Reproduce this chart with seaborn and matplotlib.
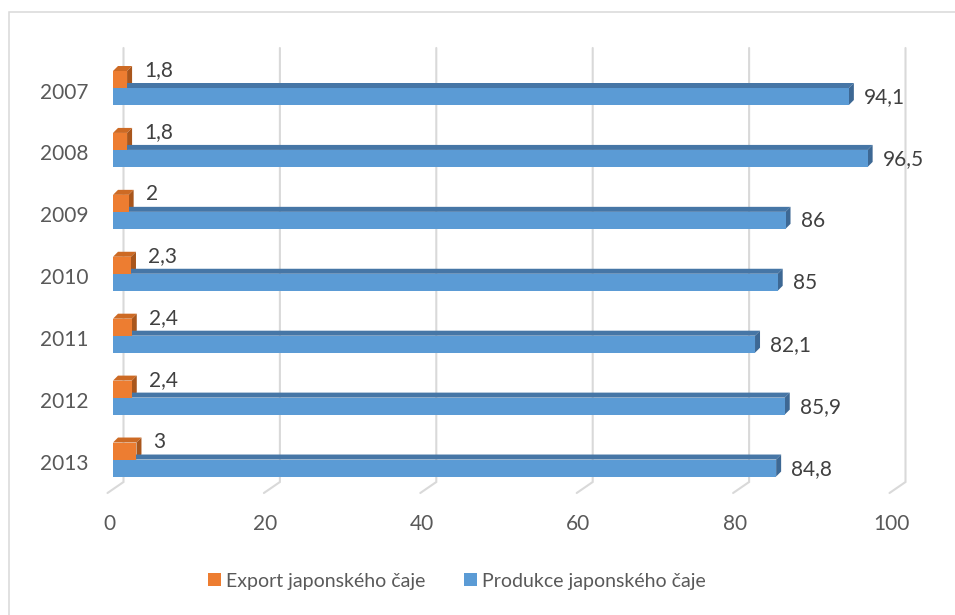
import matplotlib
matplotlib.use("Agg")
import matplotlib.pyplot as plt
import seaborn as sns
import pandas as pd
from matplotlib.patches import Polygon, Rectangle, Patch
from matplotlib.lines import Line2D
from matplotlib.transforms import IdentityTransform

# --- data -------------------------------------------------------------
years = ["2007", "2008", "2009", "2010", "2011", "2012", "2013"]
export = [1.8, 1.8, 2.0, 2.3, 2.4, 2.4, 3.0]
production = [94.1, 96.5, 86.0, 85.0, 82.1, 85.9, 84.8]
series_names = ["Export japonského čaje", "Produkce japonského čaje"]
x_ticks = [0, 20, 40, 60, 80, 100]

# --- style ------------------------------------------------------------
front_colors = ["#ED7D31", "#5B9BD5"]
top_colors = ["#CD6A24", "#4676A6"]
side_colors = ["#A9561C", "#3D6894"]
tick_color = "#595959"
label_color = "#404040"
grid_color = "#D9D9D9"
FS_NUM = 15
FS_LEG = 14

W, H = 955, 615
sns.set_style("white")
plt.rcParams["font.family"] = ["Lato", "DejaVu Sans"]

fig = plt.figure(figsize=(W / 100, H / 100), dpi=100)
fig.patch.set_facecolor("white")

# plot area in pixel coordinates (measured from the top-left corner)
ax_left, ax_right, ax_top, ax_bottom = 113, 895, 48, 482
ax = fig.add_axes([ax_left / W, (H - ax_bottom) / H,
                   (ax_right - ax_left) / W, (ax_bottom - ax_top) / H])
ax.set_facecolor("none")

df = pd.DataFrame({
    "year": years * 2,
    "value": export + production,
    "series": [series_names[0]] * len(years) + [series_names[1]] * len(years),
})

sns.barplot(data=df, x="value", y="year", hue="series", orient="h",
            order=years, hue_order=series_names, palette=front_colors,
            saturation=1, width=0.549, legend=False, ax=ax,
            linewidth=0, zorder=3)

ax.set_xlim(0, 100)
ax.set_ylim(6.363, -0.646)
for s in ax.spines.values():
    s.set_visible(False)
ax.set_xticks([])
ax.set_yticks([])
ax.set_xlabel("")
ax.set_ylabel("")

# --- back wall gridlines with floor edges ------------------------------
def to_disp(x, y):
    return ax.transData.transform((x, y))

for t in x_ticks:
    xf = to_disp(t, 0)[0]
    xb = xf + 10.5
    fig.add_artist(Line2D([xb, xb, xb - 16], [H - 48, H - 482, H - 493],
                          color=grid_color, lw=1.5, zorder=-1,
                          transform=IdentityTransform(),
                          solid_joinstyle="miter"))

# --- depth faces of the bars ------------------------------------------
dx, dy = 5, 5
for k, cont in enumerate(ax.containers):
    for p in cont:
        x0, y0 = p.get_x(), p.get_y()
        x1, y1 = x0 + p.get_width(), y0 + p.get_height()
        (px0, pyt), (px1, pyb) = to_disp(x0, y0), to_disp(x1, y1)
        top = [(px0, pyt), (px1, pyt), (px1 + dx, pyt + dy), (px0 + dx, pyt + dy)]
        side = [(px1, pyb), (px1, pyt), (px1 + dx, pyt + dy), (px1 + dx, pyb + dy)]
        for poly, col in ((top, top_colors[k]), (side, side_colors[k])):
            ax.add_patch(Polygon(poly, closed=True, facecolor=col, edgecolor="none",
                                 transform=IdentityTransform(), clip_on=False,
                                 zorder=2))

# --- value labels -----------------------------------------------------
def fmt(v):
    return f"{v:g}".replace(".", ",")

label_offsets = [(12.2, 6.5), (10.8, -0.7)]
for k, (cont, vals) in enumerate(zip(ax.containers, [export, production])):
    for p, v in zip(cont, vals):
        yc = p.get_y() + p.get_height() / 2
        ax.annotate(fmt(v), xy=(v, yc), xytext=label_offsets[k],
                    textcoords="offset points", ha="left", va="center",
                    fontsize=FS_NUM, color=label_color, annotation_clip=False)

# --- category and value axis labels ----------------------------------
for i, yr in enumerate(years):
    ax.annotate(yr, xy=(0, i), xycoords=ax.get_yaxis_transform(),
                xytext=(-25 * 0.72, -4.5 * 0.72), textcoords="offset points",
                ha="right", va="center", fontsize=FS_NUM, color=tick_color)
for t in x_ticks:
    ax.annotate(str(t), xy=(t, 0), xycoords=ax.get_xaxis_transform(),
                xytext=(-4 * 0.72, -41.5 * 0.72), textcoords="offset points",
                ha="center", va="center", fontsize=FS_NUM, color=tick_color,
                annotation_clip=False)

# --- legend -----------------------------------------------------------
handles = [Patch(facecolor=c, edgecolor="none") for c in front_colors]
fig.legend(handles, series_names, loc="center", ncol=2, frameon=False,
           bbox_to_anchor=(457 / W, (H - 581) / H), fontsize=FS_LEG,
           labelcolor=tick_color, handlelength=0.66, handleheight=0.66,
           handletextpad=0.25, columnspacing=2.0)

# --- chart border -----------------------------------------------------
fig.add_artist(Rectangle((9, -20), W + 20, H - 12 + 20, fill=False,
                         edgecolor=grid_color, lw=1.1,
                         transform=IdentityTransform(), zorder=-2))

fig.savefig("out.png", dpi=100)
